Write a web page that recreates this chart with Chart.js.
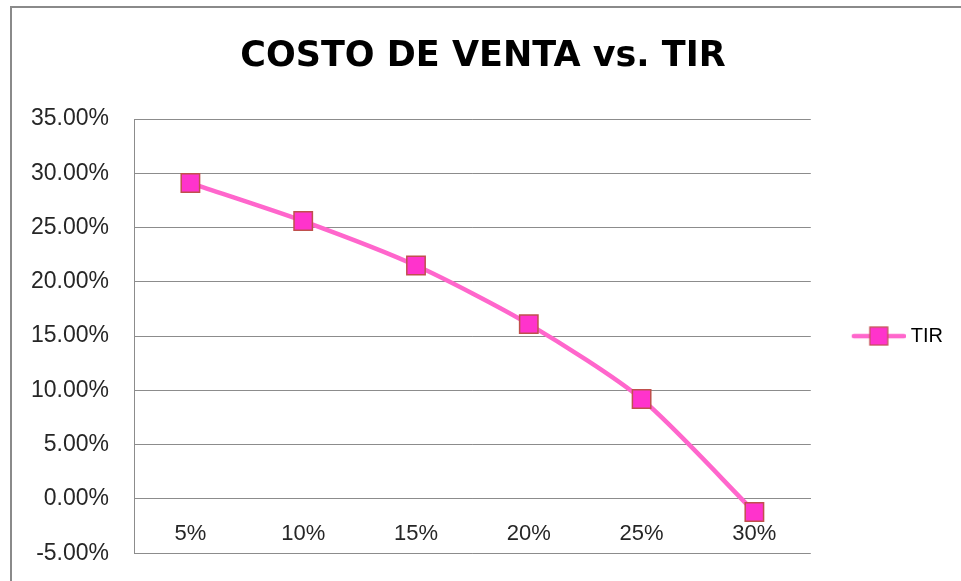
<!DOCTYPE html>
<html>
<head>
<meta charset="utf-8">
<script src="https://cdn.jsdelivr.net/npm/chart.js@4/dist/chart.umd.min.js"></script>
<style>
  html, body { margin: 0; padding: 0; background: #fff; overflow: hidden; width: 961px; height: 581px; }
  #frame { position: absolute; left: 10px; top: 6px; width: 962px; height: 620px; border: 2px solid #8a8a8a; box-sizing: border-box; }
  #c { position: absolute; left: 13px; top: 9px; }
</style>
</head>
<body>
<div id="frame"></div>
<canvas id="c" width="957" height="583"></canvas>
<script>
const titleText = 'COSTO DE VENTA vs. TIR';
const seriesName = 'TIR';
const categories = ['5%', '10%', '15%', '20%', '25%', '30%'];
const tirValues = [29.1, 25.6, 21.5, 16.1, 9.2, -1.2];
const yMin = -5, yMax = 35, yStep = 5;

const lineColor = '#FF66CC';
const markerFill = '#FF33CC';
const markerBorder = '#C0504D';
const gridColor = '#8c8c8c';
const textColor = '#262626';
const FONT = "'Liberation Sans', Arial, sans-serif";
const TITLE_FONT = "'DejaVu Sans', 'Liberation Sans', sans-serif";

// legend icon: line with square marker, handed to the legend as a pointStyle image
const icon = document.createElement('canvas');
icon.width = 90; icon.height = 20;
(function () {
  const g = icon.getContext('2d');
  g.strokeStyle = lineColor; g.lineWidth = 4.5; g.lineCap = 'round';
  g.beginPath(); g.moveTo(38, 10); g.lineTo(88, 10); g.stroke();
  g.fillStyle = markerFill; g.fillRect(54, 1, 18, 18);
  g.strokeStyle = markerBorder; g.lineWidth = 1.2; g.strokeRect(54, 1, 18, 18);
})();

new Chart(document.getElementById('c'), {
  type: 'line',
  data: {
    labels: categories,
    datasets: [{
      label: seriesName,
      data: tirValues,
      borderColor: lineColor,
      borderWidth: 4.5,
      tension: 0.25,
      pointStyle: 'rect',
      pointRadius: 13,
      pointHoverRadius: 13,
      pointBackgroundColor: markerFill,
      pointBorderColor: markerBorder,
      pointBorderWidth: 1.5
    }]
  },
  options: {
    responsive: false,
    animation: false,
    layout: { padding: { left: 0, right: 17, top: 20, bottom: 10 } },
    plugins: {
      title: {
        display: true,
        text: titleText,
        color: '#000',
        font: { family: TITLE_FONT, size: 35, weight: 'bold' },
        padding: { top: 7, bottom: 41 }
      },
      legend: {
        position: 'right',
        fullSize: false,
        labels: {
          usePointStyle: true,
          pointStyleWidth: 80,
          padding: 10,
          color: textColor,
          font: { family: FONT, size: 20 },
          generateLabels: () => [{
            text: seriesName,
            pointStyle: icon,
            fillStyle: markerFill,
            strokeStyle: markerBorder,
            lineWidth: 0,
            datasetIndex: 0,
            hidden: false
          }]
        }
      },
      tooltip: { enabled: false }
    },
    scales: {
      x: {
        type: 'category',
        offset: true,
        position: { y: 0 },
        grid: { display: false, drawTicks: false },
        border: { display: true, color: gridColor, width: 1 },
        ticks: { color: textColor, font: { family: FONT, size: 22 }, padding: 22, maxRotation: 0 }
      },
      y: {
        min: yMin,
        max: yMax,
        afterFit: (s) => { s.width = 121; },
        ticks: {
          stepSize: yStep,
          color: textColor,
          font: { family: FONT, size: 23 },
          padding: 25,
          callback: (v) => v.toFixed(2) + '%'
        },
        grid: { color: gridColor, lineWidth: 1, drawTicks: false },
        border: { display: true, color: gridColor, width: 1 }
      }
    }
  }
});
</script>
</body>
</html>
